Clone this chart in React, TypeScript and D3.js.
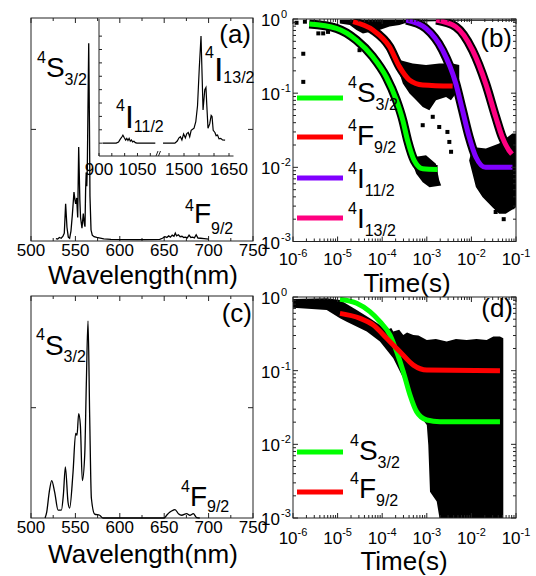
import React from "react";
import * as d3 from "d3";

const FONT = "'Liberation Sans', Arial, sans-serif";
type P = [number, number];

// ---------------- (a) spectrum ----------------
const aSpectrum: P[] = [
  [528, 0.002], [530, 0.0], [532, 0.008], [534, 0.004], [536, 0.015], [537.5, 0.03], [539, 0.18], [540.5, 0.06],
  [542, 0.01], [543.5, 0.004], [545, 0.04], [546.5, 0.12], [548.4, 0.24], [549.5, 0.2], [550.3, 0.18], [551.4, 0.21],
  [552.6, 0.11], [553.7, 0.47], [555, 0.2], [555.8, 0.11], [557.4, 0.055], [558.9, 0.13], [560, 0.08], [560.8, 0.063],
  [561.5, 0.25], [562.2, 0.34], [562.8, 0.27], [563.4, 0.36], [564, 0.6], [565, 1.0], [565.8, 0.6], [566.4, 0.22],
  [567.6, 0.046], [569, 0.02], [571, 0.012], [574, 0.008], [578, 0.005], [582, 0.001], [590, -0.002], [620, -0.003],
  [645, -0.002], [648, 0.004], [651, 0.012], [653, 0.008], [655, 0.016], [657, 0.01], [659, 0.02], [661, 0.014],
  [662.5, 0.03], [664, 0.016], [666, 0.022], [668, 0.012], [670, 0.014], [672, 0.008], [674, 0.01], [676, 0.006],
  [678, 0.02], [680, 0.008], [682, 0.01], [684, 0.006], [686, 0.022], [688, 0.005], [691, 0.004], [695, 0.002], [700, 0.0],
];
const aInsetLeft: P[] = [
  [913.4, 0], [967.2, 0], [976.2, 0.01], [982.4, 0.035], [989.6, 0.06], [993.2, 0.075], [998.6, 0.05], [1003.9, 0.028],
  [1008.4, 0.045], [1012.9, 0.025], [1017.4, 0.045], [1021.9, 0.018], [1026.3, 0.03], [1030.8, 0.012], [1036.2, 0.018],
  [1041.6, 0.005], [1047.8, 0], [1119.5, 0],
];
const aInsetRight: P[] = [
  [1430.1, 0], [1469.7, 0], [1477.5, 0.02], [1483.3, 0.05], [1488.1, 0.06], [1493.0, 0.03], [1498.7, 0.085],
  [1504.5, 0.05], [1509.4, 0.09], [1514.2, 0.1], [1519.0, 0.06], [1523.9, 0.12], [1528.7, 0.13], [1533.5, 0.14],
  [1539.3, 0.2], [1545.1, 0.35], [1550.9, 0.7], [1556.7, 1.0], [1563.5, 0.31], [1569.3, 0.5], [1573.2, 0.52],
  [1576.1, 0.35], [1580.0, 0.14], [1585.7, 0.18], [1590.6, 0.26], [1593.5, 0.25], [1597.3, 0.12], [1603.1, 0.1],
  [1607.0, 0.07], [1611.8, 0.075], [1616.7, 0.04], [1622.5, 0.045], [1628.3, 0.03], [1637.0, 0.028],
];
const wlTicks = [500, 550, 600, 650, 700, 750];
const wlMinor = [525, 575, 625, 675, 725];
const insetLeftTicks = [900, 950, 1000, 1050, 1100];
const insetRightTicks = [1450, 1500, 1550, 1600, 1650];
const insetLabelsLeft = [900, 1050];
const insetLabelsRight = [1500, 1650];
const insetYTicks = [0, 0.125, 0.25, 0.375, 0.5, 0.625, 0.75, 0.875, 1.0];
const specYTicks = [0.56];

// ---------------- (c) spectrum ----------------
const cSpectrum: P[] = [
  [515.8, 0], [517.7, 0.03], [520.5, 0.13], [523.3, 0.19], [526.7, 0.13], [530.5, 0.04], [534.2, 0.04], [536.5, 0.12],
  [538.7, 0.26], [541.7, 0.08], [543.5, 0.05], [547.3, 0.23], [550.3, 0.43], [551.8, 0.42], [553.7, 0.53], [555.6, 0.47],
  [557.8, 0.19], [560.5, 0.32], [562.3, 0.68], [564.2, 1.0], [566.1, 0.51], [568, 0.1], [571.7, 0.02], [577.3, 0.014],
  [581.1, 0], [650, 0], [652.8, 0.014], [656.5, 0.03], [660.3, 0.04], [662.2, 0.043], [666, 0.022], [669.7, 0.014],
  [675.3, 0.022], [679, 0.014], [682.8, 0.022], [686.5, 0.002], [690, 0],
];

// ---------------- (b) decay ----------------
const decadeTicks = [1e-6, 1e-5, 1e-4, 1e-3, 1e-2, 1e-1];
const decadeExp = ["-6", "-5", "-4", "-3", "-2", "-1"];
const yDecadeTicks = [1, 1e-1, 1e-2, 1e-3];
const yDecadeExp = ["0", "-1", "-2", "-3"];

const bFitS: P[] = [
  [2.31e-6, 0.855], [9.44e-6, 0.748], [2.63e-5, 0.52], [6.17e-5, 0.309], [1.23e-4, 0.166], [2.07e-4, 0.0813],
  [2.88e-4, 0.0437], [3.72e-4, 0.0229], [5.25e-4, 0.0123], [8.13e-4, 0.00955], [1.74e-3, 0.00933],
];
const bFitF: P[] = [
  [2.22e-5, 0.92], [6.17e-5, 0.71], [1.46e-4, 0.423], [2.45e-4, 0.226], [4.07e-4, 0.151], [8.13e-4, 0.129], [3.8e-3, 0.1245],
];
const bFitI11: P[] = [
  [3.45e-4, 0.968], [9.55e-4, 0.748], [2.26e-3, 0.38], [4.47e-3, 0.135], [6.31e-3, 0.0589], [8.91e-3, 0.0257],
  [0.0126, 0.0138], [0.0209, 0.01], [0.0832, 0.01],
];
const bFitI13: P[] = [
  [1.62e-3, 0.968], [4.47e-3, 0.787], [0.0106, 0.38], [0.0209, 0.135], [0.0351, 0.0479], [0.049, 0.0257],
  [0.0692, 0.017], [0.0813, 0.0151],
];
const bCloudTop: P[] = [
  [1.12e-5, 0.98], [0.098, 0.98], [0.098, 0.95], [5.35e-3, 0.95], [4.1e-4, 0.92], [2.44e-4, 0.83], [1.46e-4, 0.79],
  [8.7e-5, 0.71], [5.2e-5, 0.67], [3.7e-5, 0.64], [2.64e-5, 0.71], [1.87e-5, 0.83], [1.12e-5, 0.87],
];
const bCloudF: P[] = [
  [2.44e-4, 0.279], [4.84e-4, 0.252], [9.6e-4, 0.239], [1.91e-3, 0.252], [3.79e-3, 0.252], [5.34e-3, 0.239],
  [5.34e-3, 0.15], [4.5e-3, 0.099], [3.48e-3, 0.08], [2.7e-3, 0.089], [1.61e-3, 0.08], [1.14e-3, 0.059],
  [8.1e-4, 0.065], [5.8e-4, 0.08], [4.1e-4, 0.099], [2.9e-4, 0.135], [2.44e-4, 0.185],
];
const bCloudTailS: P[] = [
  [5.3e-4, 0.0138], [9.6e-4, 0.0145], [1.6e-3, 0.0112], [1.9e-3, 0.0067], [2.1e-3, 0.0057], [1.15e-3, 0.0054],
  [8.1e-4, 0.0063], [5.8e-4, 0.0082], [4.5e-4, 0.0124],
];
const bCloudTailI: P[] = [
  [0.0106, 0.0188], [0.0211, 0.0179], [0.0418, 0.0209], [0.0826, 0.0285], [0.1, 0.0285], [0.1, 0.0029],
  [0.0589, 0.00237], [0.0418, 0.00237], [0.0296, 0.0029], [0.0177, 0.00397], [0.0126, 0.00542], [0.0106, 0.0082],
  [0.0089, 0.0124],
];
const bPoints: P[] = [
  [1.2e-6, 0.89], [1.85e-6, 0.92], [1.7e-6, 0.34], [1.7e-6, 0.142], [3.7e-6, 0.64], [4.75e-6, 0.64], [6.1e-6, 0.67],
  [7.9e-6, 0.83], [3.1e-5, 0.38], [8.1e-4, 0.037], [1.36e-3, 0.048], [1.9e-3, 0.035], [2.9e-3, 0.03], [3.2e-3, 0.022],
  [3.5e-3, 0.0162], [0.035, 0.0025], [0.053, 0.002], [0.083, 0.0029],
];

// ---------------- (d) decay ----------------
const dFitS: P[] = [
  [1.13e-5, 0.93], [2.68e-5, 0.82], [5.3e-5, 0.632], [8.9e-5, 0.462], [1.5e-4, 0.305], [2.11e-4, 0.181],
  [2.97e-4, 0.097], [4.2e-4, 0.0468], [5.9e-4, 0.0278], [1e-3, 0.0214], [1.98e-3, 0.0203], [4.37e-2, 0.0203],
];
const dFitF: P[] = [
  [1.13e-5, 0.6], [3.2e-5, 0.513], [6.3e-5, 0.417], [1.26e-4, 0.275], [2.5e-4, 0.181], [5e-4, 0.119],
  [1e-3, 0.102], [4.37e-2, 0.1],
];
const dCloud: P[] = [
  [1e-6, 0.94], [5.7e-6, 0.96], [1.13e-5, 0.91], [2.68e-5, 0.667], [5.3e-5, 0.513], [8.9e-5, 0.417], [1.26e-4, 0.357],
  [1.6e-4, 0.38], [1.77e-4, 0.339], [2.4e-4, 0.36], [2.97e-4, 0.305], [3.6e-4, 0.33], [4.98e-4, 0.305], [6.5e-4, 0.3],
  [1.0e-3, 0.261], [1.6e-3, 0.27], [2.79e-3, 0.248], [4.5e-3, 0.27], [7.85e-3, 0.261], [1.3e-2, 0.27], [2.2e-2, 0.261],
  [3.1e-2, 0.29], [4.37e-2, 0.29], [5.19e-2, 0.275], [5.19e-2, 9e-4], [1.98e-3, 9e-4], [1.67e-3, 1.67e-3],
  [1.18e-3, 2.28e-3], [1.08e-3, 9.8e-3], [1e-3, 0.0183], [5.9e-4, 0.0278], [4.2e-4, 0.0422], [2.97e-4, 0.0789],
  [1.77e-4, 0.147], [8.9e-5, 0.248], [4.5e-5, 0.339], [1.6e-5, 0.462], [1.13e-5, 0.513], [5.7e-6, 0.667], [1e-6, 0.716],
];

const GREEN = "#00ff00";
const RED = "#ff0000";
const PURPLE = "#8000ff";
const PINK = "#ff0080";

function Term({ x, y, sup, main, sub, size = 28, small = 16, supDy = -14, subDy = 8 }: any) {
  return (
    <text x={x} y={y + supDy} fontFamily={FONT} fill="#000">
      <tspan fontSize={small}>{sup}</tspan>
      <tspan fontSize={size} dy={-supDy}>{main}</tspan>
      <tspan fontSize={small} dy={subDy}>{sub}</tspan>
    </text>
  );
}

function Frame({ x0, x1, y0, y1 }: any) {
  return <rect x={x0} y={y0} width={x1 - x0} height={y1 - y0} fill="none" stroke="#222" strokeWidth={1} />;
}

function LinearXTicks({ sx, y0, y1, labelY }: any) {
  return (
    <g stroke="#222" strokeWidth={1}>
      {wlTicks.map((t) => (
        <g key={"M" + t}>
          <line x1={sx(t)} x2={sx(t)} y1={y1} y2={y1 - 5} />
          <line x1={sx(t)} x2={sx(t)} y1={y0} y2={y0 + 5} />
          <text x={sx(t)} y={labelY} textAnchor="middle" fontSize={17} fontFamily={FONT} stroke="none" fill="#000">
            {t}
          </text>
        </g>
      ))}
      {wlMinor.map((t) => (
        <g key={"m" + t}>
          <line x1={sx(t)} x2={sx(t)} y1={y1} y2={y1 - 3} />
          <line x1={sx(t)} x2={sx(t)} y1={y0} y2={y0 + 3} />
        </g>
      ))}
    </g>
  );
}

function LogTicks({ sx, sy, x0, x1, y0, y1, xLabelY }: any) {
  const xMinor: number[] = [];
  decadeTicks.slice(0, -1).forEach((d) => {
    for (let m = 2; m <= 9; m++) xMinor.push(d * m);
  });
  const yMinor: number[] = [];
  [1e-3, 1e-2, 1e-1].forEach((d) => {
    for (let m = 2; m <= 9; m++) yMinor.push(d * m);
  });
  return (
    <g stroke="#222" strokeWidth={1}>
      {decadeTicks.map((t, i) => (
        <g key={"x" + i}>
          <line x1={sx(t)} x2={sx(t)} y1={y1} y2={y1 - 5} />
          <line x1={sx(t)} x2={sx(t)} y1={y0} y2={y0 + 5} />
          <text x={sx(t)} y={xLabelY} textAnchor="middle" fontFamily={FONT} fontSize={17} stroke="none" fill="#000">
            10<tspan fontSize={11} dy={-8}>{decadeExp[i]}</tspan>
          </text>
        </g>
      ))}
      {xMinor.map((t, i) => (
        <g key={"xm" + i}>
          <line x1={sx(t)} x2={sx(t)} y1={y1} y2={y1 - 3} />
          <line x1={sx(t)} x2={sx(t)} y1={y0} y2={y0 + 3} />
        </g>
      ))}
      {yDecadeTicks.map((t, i) => (
        <g key={"y" + i}>
          <line x1={x0} x2={x0 + 5} y1={sy(t)} y2={sy(t)} />
          <line x1={x1} x2={x1 - 5} y1={sy(t)} y2={sy(t)} />
          <text x={280} y={sy(t) + 7} textAnchor="end" fontFamily={FONT} fontSize={17} stroke="none" fill="#000">
            10
          </text>
          <text x={281} y={sy(t) - 1} textAnchor="start" fontFamily={FONT} fontSize={11} stroke="none" fill="#000">
            {yDecadeExp[i]}
          </text>
        </g>
      ))}
      {yMinor.map((t, i) => (
        <g key={"ym" + i}>
          <line x1={x0} x2={x0 + 3} y1={sy(t)} y2={sy(t)} />
          <line x1={x1} x2={x1 - 3} y1={sy(t)} y2={sy(t)} />
        </g>
      ))}
    </g>
  );
}

export default function App() {
  // (a)
  const aX = d3.scaleLinear().domain([500, 750]).range([31, 253]);
  const aY = d3.scaleLinear().domain([-0.01, 1.129]).range([241, 18]);
  const insX1 = d3.scaleLinear().domain([900, 1130]).range([99, 158]);
  const insX2 = d3.scaleLinear().domain([1425, 1665]).range([161.5, 233.5]);
  const insY = d3.scaleLinear().domain([-0.12, 1.16]).range([156, 19]);
  // (c)
  const cX = d3.scaleLinear().domain([500, 750]).range([31, 253]);
  const cY = d3.scaleLinear().domain([0, 1.127]).range([518, 296]);
  // (b)
  const bX = d3.scaleLog().domain([1e-6, 1e-1]).range([293, 516]);
  const bY = d3.scaleLog().domain([1e-3, 1]).range([241.5, 19]);
  // (d)
  const dX = d3.scaleLog().domain([1e-6, 1e-1]).range([293, 516]);
  const dY = d3.scaleLog().domain([1e-3, 1]).range([518, 297]);

  const lineA = d3.line<P>().x((d) => aX(d[0])).y((d) => aY(d[1]));
  const lineIns1 = d3.line<P>().x((d) => insX1(d[0])).y((d) => insY(d[1]));
  const lineIns2 = d3.line<P>().x((d) => insX2(d[0])).y((d) => insY(d[1]));
  const lineC = d3.line<P>().x((d) => cX(d[0])).y((d) => cY(d[1])).curve(d3.curveMonotoneX);
  const lineB = d3.line<P>().x((d) => bX(d[0])).y((d) => bY(d[1])).curve(d3.curveMonotoneX);
  const polyB = d3.line<P>().x((d) => bX(d[0])).y((d) => bY(d[1])).curve(d3.curveLinearClosed);
  const lineD = d3.line<P>().x((d) => dX(d[0])).y((d) => dY(d[1])).curve(d3.curveMonotoneX);
  const polyD = d3.line<P>().x((d) => dX(d[0])).y((d) => dY(d[1])).curve(d3.curveLinearClosed);

  const bFits: [P[], string][] = [
    [bFitS, GREEN],
    [bFitF, RED],
    [bFitI11, PURPLE],
    [bFitI13, PINK],
  ];

  return (
    <svg
      width={536}
      height={576}
      viewBox="0 0 536 576"
      style={{ position: "absolute", left: 0, top: 0, background: "#fff" }}
      fontFamily={FONT}
    >
      <defs>
        <clipPath id="clipB">
          <rect x={293} y={19} width={223} height={222.5} />
        </clipPath>
        <clipPath id="clipD">
          <rect x={293} y={297} width={223} height={221} />
        </clipPath>
      </defs>

      {/* ---------- (a) ---------- */}
      <Frame x0={31} x1={253} y0={18} y1={241} />
      <LinearXTicks sx={aX} y0={18} y1={241} labelY={256} />
      {specYTicks.map((t) => (
        <g key={t} stroke="#222">
          <line x1={31} x2={36} y1={aY(t)} y2={aY(t)} />
          <line x1={253} x2={248} y1={aY(t)} y2={aY(t)} />
        </g>
      ))}
      <path d={lineA(aSpectrum) || ""} fill="none" stroke="#000" strokeWidth={1.3} />
      {/* inset */}
      <line x1={99} x2={99} y1={19} y2={156} stroke="#222" />
      <line x1={99} x2={233.5} y1={156} y2={156} stroke="#222" />
      {insetYTicks.map((t) => (
        <line key={t} x1={99} x2={102} y1={insY(t)} y2={insY(t)} stroke="#222" />
      ))}
      {insetLeftTicks.map((t) => (
        <line key={t} x1={insX1(t)} x2={insX1(t)} y1={156} y2={153} stroke="#222" />
      ))}
      {insetRightTicks.map((t) => (
        <line key={t} x1={insX2(t)} x2={insX2(t)} y1={156} y2={153} stroke="#222" />
      ))}
      <line x1={156} x2={158} y1={156} y2={151} stroke="#222" />
      <line x1={158.5} x2={160.5} y1={156} y2={151} stroke="#222" />
      {insetLabelsLeft.map((t) => (
        <text key={t} x={insX1(t)} y={175} textAnchor="middle" fontSize={17}>
          {t}
        </text>
      ))}
      {insetLabelsRight.map((t) => (
        <text key={t} x={insX2(t)} y={175} textAnchor="middle" fontSize={17}>
          {t}
        </text>
      ))}
      <path d={lineIns1(aInsetLeft) || ""} fill="none" stroke="#000" strokeWidth={1.2} />
      <path d={lineIns2(aInsetRight) || ""} fill="none" stroke="#000" strokeWidth={1.2} />
      <Term x={116} y={128} sup="4" main="I" sub="11/2" size={32} supDy={-17} subDy={4} />
      <Term x={205} y={81} sup="4" main="I" sub="13/2" size={34} supDy={-23} subDy={2} />
      <Term x={37} y={77} sup="4" main="S" sub="3/2" />
      <Term x={185} y={223} sup="4" main="F" sub="9/2" supDy={-12} subDy={11} />
      <text x={251} y={43} textAnchor="end" fontSize={26}>
        (a)
      </text>
      <text x={143} y={284} textAnchor="middle" fontSize={26}>
        Wavelength(nm)
      </text>

      {/* ---------- (c) ---------- */}
      <Frame x0={31} x1={253} y0={296} y1={518} />
      <LinearXTicks sx={cX} y0={296} y1={518} labelY={532.5} />
      {specYTicks.map((t) => (
        <g key={t} stroke="#222">
          <line x1={31} x2={36} y1={cY(t)} y2={cY(t)} />
          <line x1={253} x2={248} y1={cY(t)} y2={cY(t)} />
        </g>
      ))}
      <path d={lineC(cSpectrum) || ""} fill="none" stroke="#000" strokeWidth={1.3} />
      <Term x={36} y={355} sup="4" main="S" sub="3/2" supDy={-15} subDy={7} />
      <Term x={181} y={506} sup="4" main="F" sub="9/2" supDy={-14} subDy={6} />
      <text x={252} y={322} textAnchor="end" fontSize={26}>
        (c)
      </text>
      <text x={143} y={563} textAnchor="middle" fontSize={26}>
        Wavelength(nm)
      </text>

      {/* ---------- (b) ---------- */}
      <g clipPath="url(#clipB)">
        {[bCloudTop, bCloudF, bCloudTailS, bCloudTailI].map((c, i) => (
          <path key={i} d={polyB(c) || ""} fill="#000" />
        ))}
        {bPoints.map((p, i) => (
          <rect key={i} x={bX(p[0]) - 2} y={bY(p[1]) - 2} width={4} height={4} fill="#000" />
        ))}
        {bFits.map(([d], i) => (
          <path key={"h" + i} d={lineB(d) || ""} fill="none" stroke="#000" strokeWidth={9} />
        ))}
        {bFits.map(([d, c], i) => (
          <path key={"f" + i} d={lineB(d) || ""} fill="none" stroke={c} strokeWidth={5} />
        ))}
      </g>
      <Frame x0={293} x1={516} y0={19} y1={241.5} />
      <LogTicks sx={bX} sy={bY} x0={293} x1={516} y0={19} y1={241.5} xLabelY={265} />
      {[
        [98, 102, GREEN, "S", "3/2"],
        [137, 145, RED, "F", "9/2"],
        [178, 188, PURPLE, "I", "11/2"],
        [218, 228, PINK, "I", "13/2"],
      ].map(([ly, ty, c, m, s]: any, i) => (
        <g key={i}>
          <line x1={297} x2={343} y1={ly} y2={ly} stroke={c} strokeWidth={5} />
          <Term x={348} y={ty} sup="4" main={m} sub={s} />
        </g>
      ))}
      <text x={512} y={47} textAnchor="end" fontSize={26}>
        (b)
      </text>
      <text x={407} y={292} textAnchor="middle" fontSize={26}>
        Time(s)
      </text>

      {/* ---------- (d) ---------- */}
      <g clipPath="url(#clipD)">
        <path d={polyD(dCloud) || ""} fill="#000" />
        <path d={lineD(dFitS) || ""} fill="none" stroke={GREEN} strokeWidth={5} />
        <path d={lineD(dFitF) || ""} fill="none" stroke={RED} strokeWidth={5} />
      </g>
      <Frame x0={293} x1={516} y0={297} y1={518} />
      <LogTicks sx={dX} sy={dY} x0={293} x1={516} y0={297} y1={518} xLabelY={544} />
      <line x1={297} x2={343} y1={452} y2={452} stroke={GREEN} strokeWidth={5} />
      <Term x={350} y={460} sup="4" main="S" sub="3/2" />
      <line x1={297} x2={343} y1={492} y2={492} stroke={RED} strokeWidth={5} />
      <Term x={350} y={498} sup="4" main="F" sub="9/2" />
      <text x={513} y={317} textAnchor="end" fontSize={26}>
        (d)
      </text>
      <text x={404} y={570} textAnchor="middle" fontSize={26}>
        Time(s)
      </text>
    </svg>
  );
}
